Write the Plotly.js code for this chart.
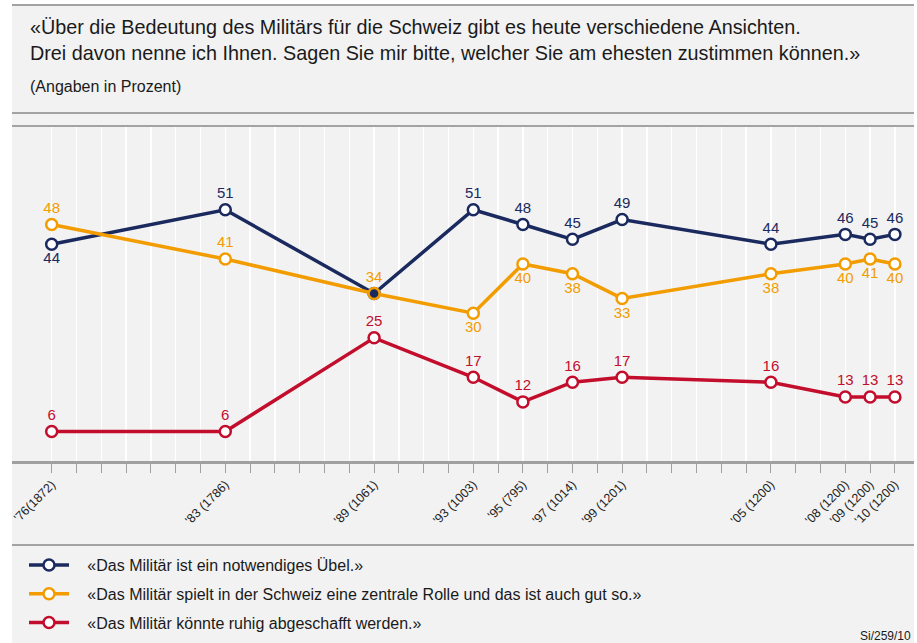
<!DOCTYPE html>
<html>
<head>
<meta charset="utf-8">
<script src="https://cdn.plot.ly/plotly-3.0.1.min.js"></script>
<style>html,body{margin:0;padding:0;background:#fff;}#chart{width:917px;height:643px;}</style>
</head>
<body>
<div id="chart"></div>
<script>
// ---- data ----
const years = [1976, 1983, 1989, 1993, 1995, 1997, 1999, 2005, 2008, 2009, 2010];
const tickLabels = ["'76(1872)", "'83 (1786)", "'89 (1061)", "'93 (1003)", "'95 (795)", "'97 (1014)", "'99 (1201)", "'05 (1200)", "'08 (1200)", "'09 (1200)", "'10 (1200)"];
const notwendigesUebel = [44, 51, 34, 51, 48, 45, 49, 44, 46, 45, 46];
const zentraleRolle = [48, 41, 34, 30, 40, 38, 33, 38, 40, 41, 40];
const abschaffen = [6, 6, 25, 17, 12, 16, 17, 16, 13, 13, 13];
const seriesNames = [
  "«Das Militär ist ein notwendiges Übel.»",
  "«Das Militär spielt in der Schweiz eine zentrale Rolle und das ist auch gut so.»",
  "«Das Militär könnte ruhig abgeschafft werden.»"
];
const titleLine1 = '«Über die Bedeutung des Militärs für die Schweiz gibt es heute verschiedene Ansichten.';
const titleLine2 = 'Drei davon nenne ich Ihnen. Sagen Sie mir bitte, welcher Sie am ehesten zustimmen können.»';
const subtitle = '(Angaben in Prozent)';
const sourceNote = 'Si/259/10';

// ---- styling ----
const NAVY = '#1b2a5e', ORANGE = '#f39c00', RED = '#c30d2c';
const FONT = 'Arial, "Liberation Sans", Helvetica, sans-serif';
const W = 917, H = 643, L = 12, R = 3, T = 126, B = 182;
const pw = W - L - R, ph = H - T - B;
const px = X => (X - L) / pw;
const py = Y => (H - B - Y) / ph;

const allYears = [];
for (let y = 1976; y <= 2010; y++) allYears.push(y);
const allText = allYears.map(y => { const i = years.indexOf(y); return i >= 0 ? tickLabels[i] : ''; });

const blueText = notwendigesUebel.map((v, i) => years[i] === 1989 ? '' : String(v));
const bluePos = years.map((y, i) => i === 0 ? 'bottom center' : 'top center');
const orangePos = years.map((y, i) => i <= 2 ? 'top center' : 'bottom center');
const orangeFill = years.map(y => y === 1989 ? NAVY : '#ffffff');
const PAD = '\u00a0\u00a0\u00a0';

function trace(name, vals, color, text, pos, fill, group) {
  return {
    type: 'scatter', mode: 'lines+markers+text', name: PAD + name, x: years, y: vals,
    text: text, textposition: pos, cliponaxis: false, legendgroup: group,
    textfont: {family: FONT, size: 15, color: color},
    line: {color: color, width: 3.5},
    marker: {symbol: 'circle', size: 11, color: fill, line: {color: color, width: 2.5}},
    hoverinfo: 'skip'
  };
}

const data = [
  trace(seriesNames[0], notwendigesUebel, NAVY, blueText, bluePos, '#ffffff', 'a'),
  trace(seriesNames[1], zentraleRolle, ORANGE, zentraleRolle.map(String), orangePos, orangeFill, 'b'),
  trace(seriesNames[2], abschaffen, RED, abschaffen.map(String), 'top center', '#ffffff', 'c')
];

const lineCol = '#a3a3a3';
const hline = (Y) => ({type: 'line', xref: 'paper', yref: 'paper', x0: 0, x1: 1, y0: py(Y), y1: py(Y), line: {color: lineCol, width: 2}});

const layout = {
  width: W, height: H,
  margin: {l: L, r: R, t: T, b: B, pad: 0, autoexpand: false},
  paper_bgcolor: '#f2f2f2', plot_bgcolor: '#f2f2f2',
  font: {family: FONT, color: '#222'},
  showlegend: true,
  title: {
    text: titleLine1 + '<br>' + titleLine2,
    font: {family: FONT, size: 19.8, color: '#1a1a1a'},
    x: 30 / W, xanchor: 'left', xref: 'container',
    y: 1 - 34 / H, yanchor: 'middle', yref: 'container'
  },
  xaxis: {
    range: [1974.40, 2010.77], fixedrange: true, automargin: false,
    tickmode: 'array', tickvals: allYears, ticktext: allText,
    tickangle: -45, tickfont: {family: FONT, size: 12.5, color: '#222'},
    ticks: 'outside', ticklen: 9, tickcolor: '#a0a0a0', tickwidth: 1,
    showgrid: true, gridcolor: '#ffffff', gridwidth: 1.5,
    showline: true, linecolor: '#a0a0a0', linewidth: 2.5,
    zeroline: false
  },
  yaxis: {
    range: [0, 68], fixedrange: true, visible: false, showgrid: false, zeroline: false
  },
  legend: {
    x: px(24), xanchor: 'left', y: py(548), yanchor: 'top',
    orientation: 'v', bgcolor: 'rgba(0,0,0,0)',
    font: {family: FONT, size: 16, color: '#1a1a1a'},
    traceorder: 'grouped', tracegroupgap: 5, itemwidth: 40
  },
  shapes: [
    {type: 'rect', xref: 'paper', yref: 'paper', x0: px(0), x1: px(L), y0: py(H), y1: py(0), fillcolor: '#ffffff', line: {width: 0}},
    {type: 'rect', xref: 'paper', yref: 'paper', x0: px(W - R), x1: px(W), y0: py(H), y1: py(0), fillcolor: '#ffffff', line: {width: 0}},
    {type: 'rect', xref: 'paper', yref: 'paper', x0: px(0), x1: px(W), y0: py(4), y1: py(0), fillcolor: '#ffffff', line: {width: 0}},
    hline(5), hline(113), hline(126), hline(545)
  ],
  annotations: [
    {text: subtitle, xref: 'paper', yref: 'paper', x: px(27.5), y: py(86), xanchor: 'left', yanchor: 'middle', showarrow: false, font: {family: FONT, size: 16, color: '#1a1a1a'}},
    {text: sourceNote, xref: 'paper', yref: 'paper', x: px(913), y: py(636), xanchor: 'right', yanchor: 'middle', showarrow: false, font: {family: FONT, size: 12, color: '#1a1a1a'}}
  ]
};

Plotly.newPlot('chart', data, layout, {displayModeBar: false, staticPlot: true});
</script>
</body>
</html>
